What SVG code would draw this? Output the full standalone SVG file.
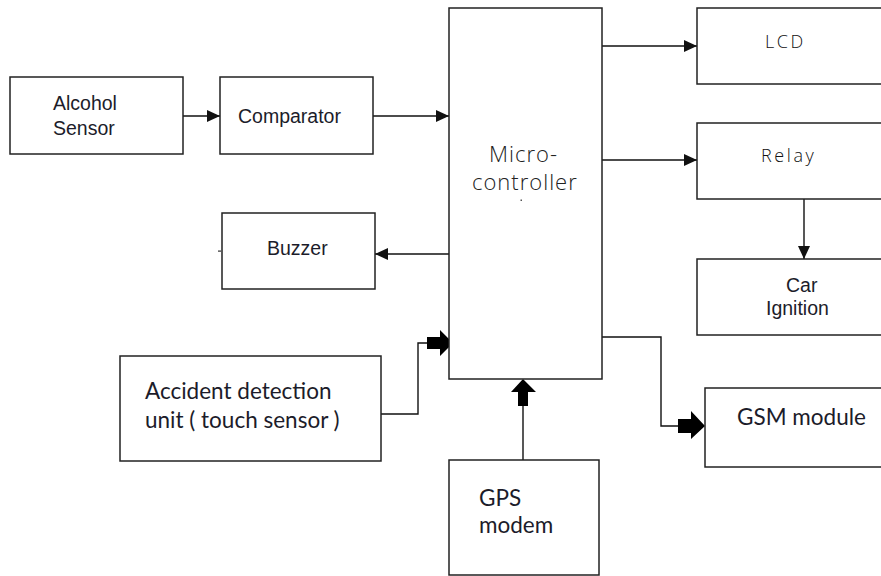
<svg xmlns="http://www.w3.org/2000/svg" width="881" height="576" viewBox="0 0 881 576">
<defs>
<marker id="tri" markerUnits="userSpaceOnUse" markerWidth="14" markerHeight="14" viewBox="0 0 14 14" refX="13" refY="7" orient="auto">
<path d="M0,1 L13,7 L0,13 Z" fill="#111"/>
</marker>
<style>
.box{fill:#fff;stroke:#222;stroke-width:1.5}
.ln{fill:none;stroke:#111;stroke-width:1.4}
.blk{fill:#000;stroke:none}
.ar{font-family:"Liberation Sans",Arial,sans-serif;font-size:19.5px;fill:#1c1c2a}
.cal{font-family:Lato,"Liberation Sans",sans-serif;font-size:22.5px;fill:#1c1c2a}
.thin{font-family:"Open Sans","DejaVu Sans",sans-serif;font-weight:300;fill:#222}
.tah{font-family:"Open Sans","DejaVu Sans",sans-serif;font-weight:300;font-size:18px;letter-spacing:2.6px;fill:#111}
</style>
</defs>
<rect width="881" height="576" fill="#fff"/>
<g id="connectors">
<line class="ln" x1="183" y1="116" x2="220" y2="116" marker-end="url(#tri)"/>
<line class="ln" x1="373" y1="116" x2="449" y2="116" marker-end="url(#tri)"/>
<line class="ln" x1="449" y1="254" x2="375" y2="254" marker-end="url(#tri)"/>
<line class="ln" x1="602" y1="46" x2="697" y2="46" marker-end="url(#tri)"/>
<line class="ln" x1="602" y1="160" x2="697" y2="160" marker-end="url(#tri)"/>
<line class="ln" x1="804" y1="199" x2="804" y2="259" marker-end="url(#tri)"/>
<polyline class="ln" points="381,414 418,414 418,343 428,343"/>
<polygon class="blk" points="427,337 440,337 440,330 453,343 440,356 440,349 427,349"/>
<line class="ln" x1="523" y1="460" x2="523" y2="405"/>
<polygon class="blk" points="518,406 518,392 511,392 523,379 536,392 528,392 528,406"/>
<polyline class="ln" points="602,337 661,337 661,426 678,426"/>
<polygon class="blk" points="678,419 691,419 691,411 705,426 691,439 691,433 678,433"/>
</g>
<g id="alcohol-sensor">
<rect class="box" x="10" y="77" width="173" height="77"/>
<text class="ar" x="53" y="110">Alcohol</text>
<text class="ar" x="53" y="135">Sensor</text>
</g>
<g id="comparator">
<rect class="box" x="220" y="77" width="153" height="77"/>
<text class="ar" x="238" y="123">Comparator</text>
</g>
<g id="buzzer">
<rect class="box" x="222" y="213" width="153" height="76"/>
<text class="ar" x="267" y="255">Buzzer</text>
<rect x="218" y="250.5" width="3" height="1.2" fill="#333"/>
</g>
<g id="microcontroller">
<rect class="box" x="449" y="8" width="153" height="371"/>
<text class="thin" x="489" y="162" font-size="22" letter-spacing="1">Micro-</text>
<text class="thin" x="472" y="190" font-size="22" letter-spacing="1">controller</text>
<rect x="520.5" y="199.5" width="1.5" height="1.5" fill="#555"/>
</g>
<g id="lcd">
<rect class="box" x="697" y="8" width="190" height="76"/>
<text class="tah" x="765" y="48">LCD</text>
</g>
<g id="relay">
<rect class="box" x="697" y="123" width="190" height="76"/>
<text class="tah" x="761" y="162">Relay</text>
</g>
<g id="car-ignition">
<rect class="box" x="697" y="259" width="190" height="76"/>
<text class="ar" x="786" y="292">Car</text>
<text class="ar" x="766" y="315">Ignition</text>
</g>
<g id="accident-detection">
<rect class="box" x="120" y="356" width="261" height="105"/>
<text class="cal" x="145" y="399">Accident detection</text>
<text class="cal" x="145" y="428">unit ( touch sensor )</text>
</g>
<g id="gps-modem">
<rect class="box" x="449" y="460" width="150" height="115"/>
<text class="cal" x="479" y="506">GPS</text>
<text class="cal" x="479" y="533">modem</text>
</g>
<g id="gsm-module">
<rect class="box" x="705" y="388" width="190" height="79"/>
<text class="cal" x="737" y="425">GSM module</text>
</g>
</svg>
